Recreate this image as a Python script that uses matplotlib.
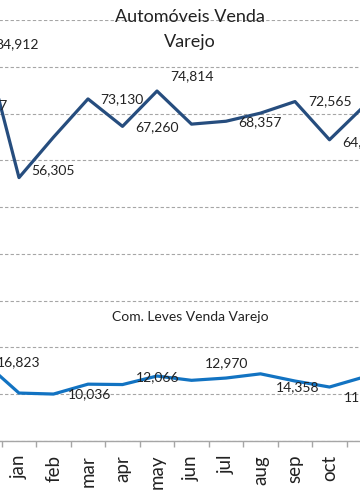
"""
Automóveis / Com. Leves venda varejo - line chart (cropped view).
"""
import numpy as np
import matplotlib
matplotlib.use("Agg")
import matplotlib.pyplot as plt
from matplotlib.ticker import FixedLocator

plt.rcParams['font.family'] = ['Lato', 'DejaVu Sans']

# data (first two months are from the previous year, mostly off the picture)
months = ['nov', 'dec', 'jan', 'feb', 'mar', 'apr', 'may', 'jun',
          'jul', 'aug', 'sep', 'oct', 'nov']
automoveis = [71797, 84912, 56305, 64950, 73130, 67260, 74814, 67740,
              68357, 70090, 72565, 64400, 71580]
com_leves = [np.nan, 16823, 10250, 10036, 12150, 12066, 13890, 12970,
             13460, 14358, 12820, 11540, 13680]

# which points carry a data label -> offset of the label (pixels)
auto_labels = {0: (14, 0), 1: (11, 0), 2: (12, 7), 4: (12, 0), 5: (13, -1),
               6: (13, 15), 8: (12, -1), 10: (13, 0), 11: (13, -2)}
leves_labels = {1: (12, 0), 3: (14, 0), 5: (13, 7), 7: (13, 17),
                9: (15, -13), 11: (14, -10)}

W, H = 360, 504
fig = plt.figure(figsize=(W / 100, H / 100), dpi=100)
# plot area is wider than the picture: the original chart is cut on both sides
ax = fig.add_axes([-67.25 / W, 63 / H, 448.5 / W, 421 / H])

x = np.arange(len(months))
ax.plot(x, automoveis, color='#264d7e', linewidth=2.3)
ax.plot(x, com_leves, color='#1273c2', linewidth=2.3)

for i, (dx, dy) in auto_labels.items():
    ax.annotate(f"{automoveis[i]:,}", (x[i], automoveis[i]), xytext=(dx, dy),
                textcoords='offset pixels', ha='left', va='center',
                fontsize=10, color='#222222')
for i, (dx, dy) in leves_labels.items():
    ax.annotate(f"{com_leves[i]:,}", (x[i], com_leves[i]), xytext=(dx, dy),
                textcoords='offset pixels', ha='left', va='center',
                fontsize=10, color='#222222')

ax.set_xlim(-0.5, len(months) - 0.5)
ax.set_ylim(0, 90000)

# y grid
ax.set_yticks(range(0, 90001, 10000))
ax.yaxis.grid(True, linestyle=(0, (3, 2)), linewidth=0.8, color='#a6a6a6')
ax.tick_params(axis='y', left=False, labelleft=False)
ax.set_axisbelow(True)

# x axis: labels at categories, tick marks between them
ax.set_xticks(x)
ax.set_xticklabels(months, rotation=90, fontsize=13.5, color='#222222')
ax.xaxis.set_minor_locator(FixedLocator(x[:-1] + 0.5))
ax.tick_params(axis='x', which='major', length=0, pad=10)
ax.tick_params(axis='x', which='minor', length=4.5, width=1, color='#a6a6a6')

for s in ['top', 'left', 'right']:
    ax.spines[s].set_visible(False)
ax.spines['bottom'].set_color('#a6a6a6')
ax.spines['bottom'].set_linewidth(1)

# titles
fig.text(190 / W, 1 - 17 / H, "Automóveis Venda", ha='center', va='center',
         fontsize=13, color='#222222')
fig.text(190 / W, 1 - 42 / H, "Varejo", ha='center', va='center',
         fontsize=13, color='#222222')
fig.text(190 / W, 1 - 317 / H, "Com. Leves Venda Varejo", ha='center',
         va='center', fontsize=10, color='#222222')

fig.savefig("out.png", dpi=100)
